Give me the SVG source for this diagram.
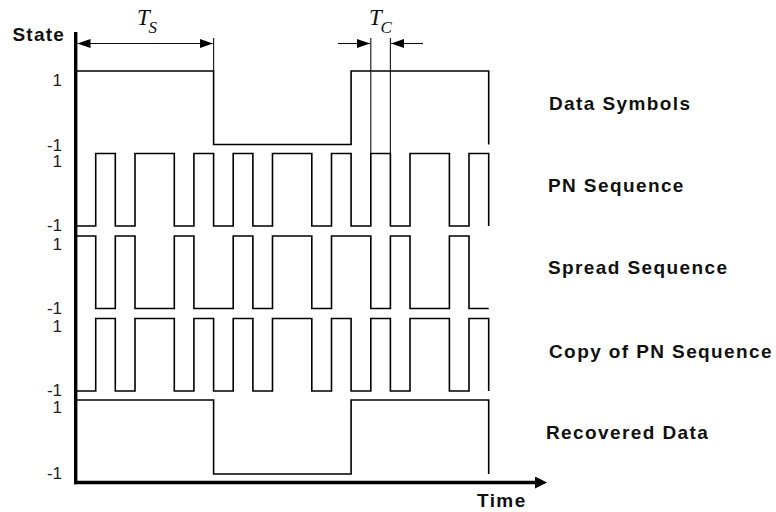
<svg xmlns="http://www.w3.org/2000/svg" width="776" height="512" viewBox="0 0 776 512">
<style>
.wave{fill:none;stroke:#000;stroke-width:1.6;stroke-linejoin:miter}
.thin{fill:none;stroke:#111;stroke-width:1.1}
.lvl{font-family:"Liberation Sans",Arial,sans-serif;font-size:17px;fill:#222;text-anchor:end}
.lab{font-family:"Liberation Sans",Arial,sans-serif;font-size:19px;font-weight:bold;fill:#111;letter-spacing:1.4px}
.it{font-family:"Liberation Serif","Times New Roman",serif;font-style:italic;fill:#111}
</style>
<defs>
<marker id="dimHead" markerUnits="userSpaceOnUse" markerWidth="13" markerHeight="9" refX="13" refY="4.5" orient="auto-start-reverse">
<path d="M0,0 L13,4.5 L0,9 z" fill="#000"/>
</marker>
<marker id="axHead" markerUnits="userSpaceOnUse" markerWidth="12" markerHeight="12" refX="1" refY="6" orient="auto">
<path d="M0,0 L12,6 L0,12 z" fill="#000"/>
</marker>
</defs>
<rect width="776" height="512" fill="#fff"/>

<g id="axes">
<line x1="75.7" y1="32" x2="75.7" y2="484.2" stroke="#000" stroke-width="3.4"/>
<line x1="74" y1="482.5" x2="536" y2="482.5" stroke="#000" stroke-width="3.4" marker-end="url(#axHead)"/>
<text x="12.5" y="41" class="lab" style="letter-spacing:1.2px">State</text>
<text x="477" y="507" class="lab">Time</text>
</g>

<g id="levels">
<text x="62" y="86" class="lvl">1</text>
<text x="62" y="150.5" class="lvl">-1</text>
<text x="62" y="167" class="lvl">1</text>
<text x="62" y="231" class="lvl">-1</text>
<text x="62" y="250" class="lvl">1</text>
<text x="62" y="314" class="lvl">-1</text>
<text x="62" y="332" class="lvl">1</text>
<text x="62" y="396" class="lvl">-1</text>
<text x="62" y="413" class="lvl">1</text>
<text x="62" y="479" class="lvl">-1</text>
</g>

<g id="data-symbols">
<polyline class="wave" points="76,71 213.6,71 213.6,144.5 351.1,144.5 351.1,71 488.7,71 488.7,144.5"/>
<text x="549" y="110" class="lab">Data Symbols</text>
</g>

<g id="pn-sequence">
<polyline class="wave" points="76,226 95.7,226 95.7,153.5 115.3,153.5 115.3,226 135,226 135,153.5 174.3,153.5 174.3,226 193.9,226 193.9,153.5 213.6,153.5 213.6,226 233.2,226 233.2,153.5 252.9,153.5 252.9,226 272.5,226 272.5,153.5 311.8,153.5 311.8,226 331.5,226 331.5,153.5 351.1,153.5 351.1,226 370.8,226 370.8,153.5 390.4,153.5 390.4,226 410,226 410,153.5 449.4,153.5 449.4,226 469,226 469,153.5 488.7,153.5 488.7,226"/>
<text x="548" y="192" class="lab">PN Sequence</text>
</g>

<g id="spread-sequence">
<polyline class="wave" points="76,236 95.7,236 95.7,308.5 115.3,308.5 115.3,236 135,236 135,308.5 174.3,308.5 174.3,236 193.9,236 193.9,308.5 233.2,308.5 233.2,236 252.9,236 252.9,308.5 272.5,308.5 272.5,236 311.8,236 311.8,308.5 331.5,308.5 331.5,236 370.8,236 370.8,308.5 390.4,308.5 390.4,236 410,236 410,308.5 449.4,308.5 449.4,236 469,236 469,308.5 488.7,308.5"/>
<text x="548" y="274" class="lab">Spread Sequence</text>
</g>

<g id="copy-pn-sequence">
<polyline class="wave" points="76,391 95.7,391 95.7,318.5 115.3,318.5 115.3,391 135,391 135,318.5 174.3,318.5 174.3,391 193.9,391 193.9,318.5 213.6,318.5 213.6,391 233.2,391 233.2,318.5 252.9,318.5 252.9,391 272.5,391 272.5,318.5 311.8,318.5 311.8,391 331.5,391 331.5,318.5 351.1,318.5 351.1,391 370.8,391 370.8,318.5 390.4,318.5 390.4,391 410,391 410,318.5 449.4,318.5 449.4,391 469,391 469,318.5 488.7,318.5 488.7,391"/>
<text x="549" y="358" class="lab">Copy of PN Sequence</text>
</g>

<g id="recovered-data">
<polyline class="wave" points="76,400 213.6,400 213.6,474 351.1,474 351.1,400 488.7,400 488.7,474"/>
<text x="546" y="439" class="lab">Recovered Data</text>
</g>

<g id="connectors">
<line class="thin" x1="213.6" y1="38" x2="213.6" y2="71"/>
<line class="thin" x1="77.5" y1="43.5" x2="212.8" y2="43.5" marker-start="url(#dimHead)" marker-end="url(#dimHead)"/>
<line class="thin" x1="370.8" y1="38" x2="370.8" y2="153.5"/>
<line class="thin" x1="390.4" y1="38" x2="390.4" y2="153.5"/>
<line class="thin" x1="338" y1="43.5" x2="370" y2="43.5" marker-end="url(#dimHead)"/>
<line class="thin" x1="423" y1="43.5" x2="391.2" y2="43.5" marker-end="url(#dimHead)"/>
</g>

<g id="dimension-labels">
<text x="137" y="25" class="it" font-size="23">T</text>
<text x="148.5" y="33" class="it" font-size="17">S</text>
<text x="369" y="25" class="it" font-size="23">T</text>
<text x="380.5" y="33" class="it" font-size="17">C</text>
</g>
</svg>
